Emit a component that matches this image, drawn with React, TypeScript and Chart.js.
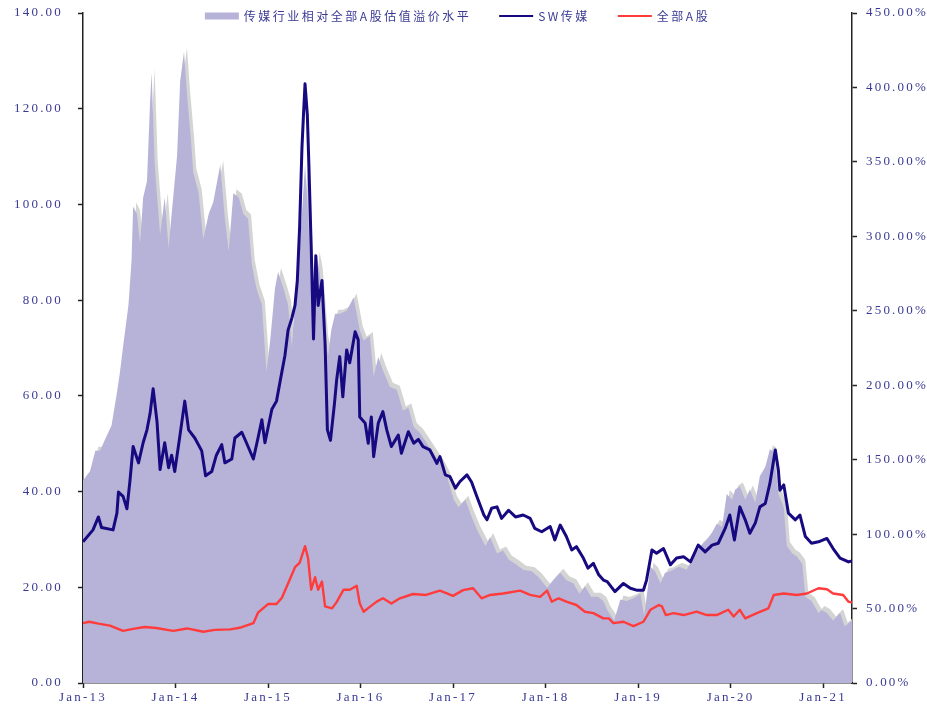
import React, { useEffect, useRef } from 'react';
import { Chart, registerables } from 'chart.js';

// ---------- data ----------
const PREM_LABEL = '传媒行业相对全部A股估值溢价水平';
const SW_LABEL = 'SW传媒';
const ALL_LABEL = '全部A股';

// months since Jan 2013
const PREM_MONTHS = [
  0, 0.9, 1.6, 2.2, 2.9, 3.7, 4.4, 4.8, 5.2, 5.9,
  6.3, 6.5, 7.0, 7.4, 7.8, 8.3, 8.7, 8.9, 9.3, 10.0,
  10.6, 11.1, 11.5, 12.2, 12.6, 13.1, 13.5, 14.0, 14.3, 15.0,
  15.6, 16.3, 16.9, 17.8, 18.4, 18.9, 19.5, 20.2, 20.8, 21.4,
  21.9, 22.5, 23.2, 23.8, 24.3, 24.9, 25.3, 26.0, 26.6, 27.1,
  27.5, 27.9, 28.4, 28.8, 29.2, 29.7, 30.3, 30.7, 31.4, 31.8,
  32.2, 32.7, 33.3, 34.2, 35.1, 35.9, 36.4, 37.2, 37.7, 38.3,
  38.9, 39.8, 40.7, 41.5, 42.2, 42.9, 43.7, 44.6, 45.5, 46.3,
  47.2, 48.1, 48.7, 49.6, 50.3, 51.1, 52.2, 52.8, 53.7, 54.5,
  55.2, 56.1, 57.1, 58.2, 59.1, 60.2, 61.0, 61.9, 62.7, 63.6,
  64.4, 65.1, 65.9, 66.8, 67.5, 68.0, 68.9, 69.7, 70.5, 71.4,
  72.3, 72.8, 73.6, 74.2, 74.9, 75.5, 76.2, 77.3, 78.3, 79.2,
  80.1, 80.9, 81.6, 82.2, 82.9, 83.5, 84.2, 84.6, 85.2, 85.9,
  86.5, 87.2, 87.8, 88.5, 89.1, 89.6, 90.2, 90.9, 91.3, 92.0,
  92.6, 93.3, 93.7, 94.5, 95.4, 95.8, 96.5, 97.3, 98.2, 98.8,
  99.75,
];
// premium, %
const PREM_VALUES = [
  136, 142, 156, 156, 164, 173, 195, 209, 226, 254,
  284, 320, 315, 295, 326, 337, 390, 410, 348, 301,
  326, 292, 315, 354, 404, 424, 395, 365, 343, 329,
  298, 315, 323, 348, 312, 290, 329, 326, 315, 312,
  281, 265, 254, 209, 231, 265, 276, 265, 254, 226,
  259, 276, 315, 348, 315, 248, 287, 276, 231, 220,
  237, 248, 248, 250, 259, 237, 230, 233, 206, 219,
  210, 199, 197, 183, 185, 172, 168, 161, 154, 148,
  139, 123, 118, 123, 113, 103, 92, 98, 87, 89,
  83, 80, 76, 75, 71, 64, 69, 74, 69, 67,
  60, 65, 58, 58, 55, 49, 42, 56, 55, 57,
  60, 45, 78, 75, 67, 74, 75, 78, 76, 85,
  92, 96, 101, 107, 105, 127, 123, 130, 132, 123,
  130, 121, 139, 145, 157, 155, 127, 118, 92, 87,
  85, 80, 58, 55, 47, 49, 47, 42, 47, 38,
  42,
];

const SW_MONTHS = [
  0, 1.3, 2.0, 2.4, 3.9, 4.4, 4.6, 5.2, 5.7, 6.1,
  6.5, 7.2, 7.8, 8.3, 8.7, 9.1, 9.6, 10.0, 10.6, 11.1,
  11.5, 11.9, 12.6, 13.2, 13.7, 14.5, 15.4, 15.9, 16.7, 17.3,
  18.0, 18.4, 19.3, 19.7, 20.6, 21.2, 22.1, 22.7, 23.2, 23.6,
  24.5, 25.1, 25.6, 26.2, 26.6, 27.1, 27.5, 27.8, 28.1, 28.4,
  28.6, 28.8, 29.1, 29.3, 29.6, 29.9, 30.2, 30.5, 31.0, 31.4,
  31.7, 32.1, 32.6, 32.9, 33.3, 33.7, 34.2, 34.6, 35.3, 35.7,
  35.9, 36.6, 37.0, 37.4, 37.7, 38.3, 38.9, 39.4, 40.0, 40.9,
  41.3, 42.2, 42.9, 43.5, 44.1, 45.0, 45.9, 46.3, 47.0, 47.6,
  48.3, 48.9, 49.8, 50.4, 51.1, 52.0, 52.4, 53.0, 53.7, 54.3,
  55.2, 56.1, 57.1, 58.0, 58.6, 59.5, 60.6, 61.2, 61.9, 62.7,
  63.4, 64.0, 64.9, 65.5, 66.2, 66.9, 67.5, 68.0, 69.0, 70.1,
  71.0, 71.8, 72.7, 73.1, 73.8, 74.4, 75.3, 76.2, 77.0, 77.9,
  78.8, 79.8, 80.7, 81.6, 82.4, 83.3, 83.9, 84.5, 85.2, 85.9,
  86.5, 87.2, 87.8, 88.5, 89.1, 89.8, 90.2, 90.4, 90.9, 91.5,
  92.4, 93.0, 93.7, 94.5, 95.4, 96.5, 97.3, 98.2, 99.3, 99.75,
];
const SW_VALUES = [
  29.5, 32, 34.7, 32.5, 32, 35.5, 39.9, 39, 36.4, 42.4,
  49.4, 46, 50.2, 52.9, 56.3, 61.5, 54.6, 44.6, 50.2, 45,
  47.6, 44.2, 52, 58.9, 52.9, 51.2, 48.5, 43.3, 44.2, 47.6,
  49.8, 46, 46.8, 51.2, 52.4, 50.2, 46.8, 51.2, 55, 50.2,
  57.2, 58.9, 63.3, 68.5, 73.7, 76.3, 78.9, 84.1, 95.3, 111.8,
  118.7, 125.2, 118.7, 108.3, 91, 71.9, 89.3, 78.9, 84.1, 71,
  52.9, 50.7, 58.1, 63.3, 68.2, 59.8, 69.6, 66.9, 73.4, 71.7,
  55.6, 54.3, 50.1, 55.6, 47.3, 54.3, 56.7, 52.9, 49.4, 51.8,
  48, 52.5, 50.1, 50.9, 49.4, 48.7, 45.9, 47.3, 43.5, 43.1,
  40.7, 42.1, 43.5, 42, 38.9, 35.1, 34.1, 36.5, 36.8, 34.4,
  36.1, 34.7, 35.1, 34.4, 32.3, 31.6, 32.7, 29.9, 33, 30.6,
  27.8, 28.5, 26.1, 24, 25, 22.6, 21.5, 21.2, 19.1, 20.8,
  19.8, 19.4, 19.4, 21.5, 27.8, 27.1, 28.1, 24.7, 26.1, 26.4,
  25.3, 28.8, 27.4, 28.8, 29.2, 32.3, 35.1, 29.9, 36.8, 34.1,
  31.3, 33.4, 36.8, 37.5, 41.7, 48.7, 44.5, 40.3, 41.4, 35.5,
  34.1, 35.1, 30.6, 29.2, 29.5, 30.2, 28.1, 26.1, 25.3, 25.5,
];

const ALL_MONTHS = [
  0, 0.8, 2.0, 3.5, 5.2, 6.5, 8.0, 9.5, 11.7, 13.5,
  15.6, 17.1, 19.1, 20.5, 22.1, 22.7, 24.0, 25.1, 25.8, 26.6,
  27.5, 28.1, 28.8, 29.2, 29.6, 30.1, 30.5, 31.0, 31.4, 32.3,
  32.9, 33.8, 34.6, 35.5, 35.9, 36.4, 37.2, 38.1, 38.9, 40.0,
  41.1, 42.8, 44.5, 46.3, 48.0, 49.3, 50.6, 51.7, 52.8, 54.5,
  56.7, 58.0, 59.3, 60.2, 60.8, 61.7, 62.7, 64.0, 65.1, 66.2,
  67.5, 68.2, 68.8, 70.1, 71.4, 72.7, 73.6, 74.7, 75.1, 75.6,
  76.6, 77.9, 79.6, 80.9, 82.2, 83.7, 84.4, 85.2, 85.9, 87.4,
  88.9, 89.6, 90.9, 92.6, 93.9, 95.4, 96.5, 97.3, 98.6, 99.3,
  99.75,
];
const ALL_VALUES = [
  12.5, 12.8, 12.4, 12.0, 10.9, 11.3, 11.7, 11.5, 10.9, 11.4,
  10.7, 11.1, 11.2, 11.6, 12.5, 14.7, 16.5, 16.5, 17.8, 20.8,
  24.2, 25.1, 28.6, 26, 19.5, 22.1, 19.5, 21.2, 16, 15.6,
  16.9, 19.5, 19.5, 20.3, 16.6, 14.9, 15.9, 17, 17.7, 16.6,
  17.7, 18.6, 18.4, 19.3, 18.2, 19.4, 19.8, 17.7, 18.4, 18.7,
  19.3, 18.4, 18, 19.3, 17, 17.7, 17, 16.3, 14.9, 14.6,
  13.5, 13.5, 12.5, 12.8, 11.9, 12.8, 15.3, 16.3, 16, 14.2,
  14.6, 14.2, 14.9, 14.2, 14.2, 15.3, 13.9, 15.3, 13.5, 14.6,
  15.6, 18.4, 18.7, 18.4, 18.7, 19.8, 19.6, 18.7, 18.4, 17,
  16.8,
];

const X_TICK_MONTHS = [0, 12, 24, 36, 48, 60, 72, 84, 96];
const X_TICK_LABELS = ['Jan-13', 'Jan-14', 'Jan-15', 'Jan-16', 'Jan-17', 'Jan-18', 'Jan-19', 'Jan-20', 'Jan-21'];
const LEFT_TICKS = [0, 20, 40, 60, 80, 100, 120, 140];
const RIGHT_TICKS = [0, 50, 100, 150, 200, 250, 300, 350, 400, 450];

// ---------- style ----------
const TEXT_COLOR = '#3a3a94';
const AXIS_COLOR = '#222222';
const AREA_COLOR = '#b7b3d8';
const SW_COLOR = '#170a80';
const ALL_COLOR = '#ff3b3b';
const TICK_FONT = { family: '"Liberation Serif", serif', size: 13 };

const toPoints = (xs: number[], ys: number[]) => xs.map((x, i) => ({ x, y: ys[i] }));

const shadowPlugin = {
  id: 'areaShadow',
  beforeDatasetDraw(chart: any, args: any) {
    if (args.index !== 0) return;
    const ctx = chart.ctx;
    ctx.save();
    ctx.shadowColor = 'rgba(212,212,212,1)';
    ctx.shadowOffsetX = 3;
    ctx.shadowOffsetY = -4;
    ctx.shadowBlur = 0.5;
  },
  afterDatasetDraw(chart: any, args: any) {
    if (args.index !== 0) return;
    chart.ctx.restore();
  },
};

// register before the built-ins so the shadow is set before the Filler draws
Chart.register(shadowPlugin as any);
Chart.register(...registerables);

const spacingPlugin = {
  id: 'tickSpacing',
  beforeLayout(chart: any) { chart.ctx.letterSpacing = '2.2px'; },
  beforeDraw(chart: any) { chart.ctx.letterSpacing = '2.2px'; },
};

const legendPlugin = {
  id: 'topLegend',
  afterDraw(chart: any) {
    const ctx = chart.ctx;
    const ds = chart.data.datasets;
    ctx.save();
    ctx.font = '12px "Noto Sans CJK SC"';
    ctx.letterSpacing = '2.5px';
    ctx.textBaseline = 'middle';
    ctx.textAlign = 'left';
    const SW = 34, GAP = 5, ITEM_GAP = 28;
    const widths = ds.map((d: any) => ctx.measureText(d.label).width);
    const total = widths.reduce((a: number, w: number) => a + SW + GAP + w, 0) + ITEM_GAP * (ds.length - 1);
    const cx = (chart.chartArea.left + chart.chartArea.right) / 2 - 10;
    let x = cx - total / 2;
    const y = 16;
    ds.forEach((d: any, i: number) => {
      if (i === 0) {
        ctx.fillStyle = d.backgroundColor;
        ctx.fillRect(x, y - 3.5, SW, 7);
      } else {
        ctx.strokeStyle = d.borderColor;
        ctx.lineWidth = 2;
        ctx.beginPath();
        ctx.moveTo(x, y);
        ctx.lineTo(x + SW, y);
        ctx.stroke();
      }
      ctx.fillStyle = TEXT_COLOR;
      ctx.fillText(d.label, x + SW + GAP, y + 0.5);
      x += SW + GAP + widths[i] + ITEM_GAP;
    });
    ctx.restore();
  },
};

const noVPad = (w: number) => (s: any) => {
  s.width = w;
  s.paddingTop = 0;
  s.paddingBottom = 0;
};

export default function App() {
  const canvasRef = useRef<HTMLCanvasElement | null>(null);

  useEffect(() => {
    const canvas = canvasRef.current;
    if (!canvas) return;
    const chart = new Chart(canvas, {
      type: 'line',
      data: {
        datasets: [
          {
            label: PREM_LABEL,
            data: toPoints(PREM_MONTHS, PREM_VALUES),
            yAxisID: 'y1',
            fill: 'origin',
            backgroundColor: AREA_COLOR,
            borderColor: 'rgba(0,0,0,0)',
            borderWidth: 0,
            pointRadius: 0,
            tension: 0,
            order: 3,
          },
          {
            label: SW_LABEL,
            data: toPoints(SW_MONTHS, SW_VALUES),
            yAxisID: 'y',
            fill: false,
            borderColor: SW_COLOR,
            backgroundColor: SW_COLOR,
            borderWidth: 3,
            borderJoinStyle: 'round',
            pointRadius: 0,
            tension: 0,
            order: 1,
          },
          {
            label: ALL_LABEL,
            data: toPoints(ALL_MONTHS, ALL_VALUES),
            yAxisID: 'y',
            fill: false,
            borderColor: ALL_COLOR,
            backgroundColor: ALL_COLOR,
            borderWidth: 2.4,
            borderJoinStyle: 'round',
            pointRadius: 0,
            tension: 0,
            order: 2,
          },
        ],
      },
      options: {
        responsive: false,
        animation: false,
        events: [],
        layout: { padding: { top: 13, left: 0, right: 0, bottom: 0 } },
        plugins: {
          legend: { display: false },
          tooltip: { enabled: false },
        },
        scales: {
          x: {
            type: 'linear',
            min: 0,
            max: 99.75,
            afterBuildTicks: (s: any) => { s.ticks = X_TICK_MONTHS.map((v) => ({ value: v })); },
            afterFit: (s: any) => { s.height = 23; s.paddingLeft = 0; s.paddingRight = 0; },
            ticks: {
              autoSkip: false,
              maxRotation: 0,
              minRotation: 0,
              padding: 2,
              color: TEXT_COLOR,
              font: TICK_FONT,
              callback: (v: any) => {
                const i = X_TICK_MONTHS.indexOf(Number(v));
                return i >= 0 ? X_TICK_LABELS[i] : '';
              },
            },
            grid: { drawOnChartArea: false, drawTicks: true, tickLength: 5, tickColor: AXIS_COLOR, tickWidth: 1.5 },
            border: { display: true, color: AXIS_COLOR, width: 1.5 },
          },
          y: {
            type: 'linear',
            position: 'left',
            min: 0,
            max: 140,
            afterBuildTicks: (s: any) => { s.ticks = LEFT_TICKS.map((v) => ({ value: v })); },
            afterFit: noVPad(83),
            ticks: {
              padding: 15,
              color: TEXT_COLOR,
              font: TICK_FONT,
              callback: (v: any) => Number(v).toFixed(2),
            },
            grid: { drawOnChartArea: false, drawTicks: true, tickLength: 5, tickColor: AXIS_COLOR, tickWidth: 1.5 },
            border: { display: true, color: AXIS_COLOR, width: 1.5 },
          },
          y1: {
            type: 'linear',
            position: 'right',
            min: 0,
            max: 450,
            afterBuildTicks: (s: any) => { s.ticks = RIGHT_TICKS.map((v) => ({ value: v })); },
            afterFit: noVPad(75),
            ticks: {
              padding: 9,
              color: TEXT_COLOR,
              font: TICK_FONT,
              callback: (v: any) => Number(v).toFixed(2) + '%',
            },
            grid: { drawOnChartArea: false, drawTicks: true, tickLength: 5, tickColor: AXIS_COLOR, tickWidth: 1.5 },
            border: { display: true, color: AXIS_COLOR, width: 1.5 },
          },
        },
      },
      plugins: [spacingPlugin, legendPlugin],
    } as any);
    return () => chart.destroy();
  }, []);

  return (
    <div style={{ position: 'fixed', left: 0, top: 0, width: 927, height: 706, background: '#ffffff' }}>
      <canvas ref={canvasRef} width={927} height={706} style={{ display: 'block', width: 927, height: 706 }} />
    </div>
  );
}
